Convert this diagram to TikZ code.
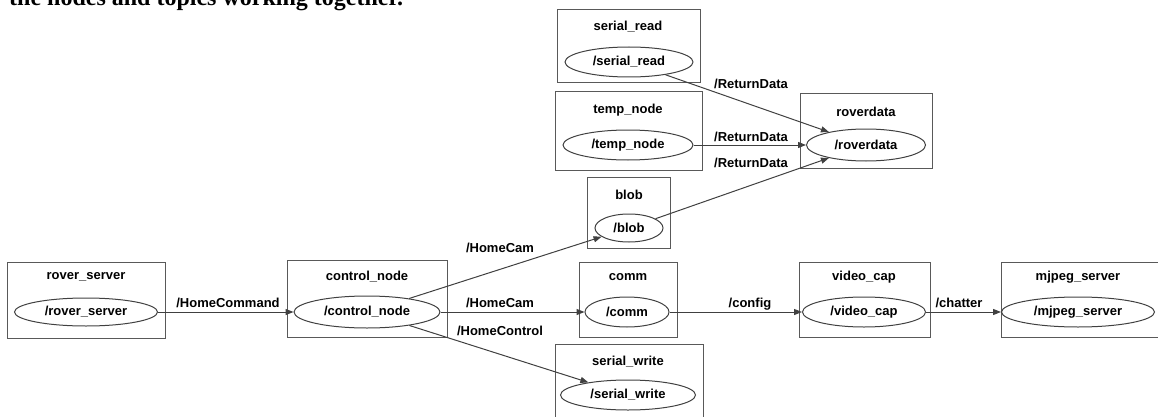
\documentclass[tikz,border=0pt]{standalone}
\usepackage{fontspec}
\usepackage{tikz}
\usetikzlibrary{shapes.geometric,arrows.meta}
\newfontfamily\graphfont{Liberation Sans}
\newfontfamily\pagefont{Liberation Serif}

\tikzset{
  cluster/.style={draw=black!65, line width=1pt, inner sep=0pt},
  topic/.style={ellipse, draw=black!75, line width=1pt, inner sep=0pt,
    font=\graphfont\bfseries\fontsize{13}{15}\selectfont},
  title/.style={inner sep=1pt, font=\graphfont\bfseries\fontsize{13}{15}\selectfont},
  lbl/.style={inner sep=1pt, font=\graphfont\bfseries\fontsize{13}{15}\selectfont},
  conn/.style={draw=black!75, line width=1pt, -{Triangle[length=8pt,width=6pt]}}
}

\begin{document}
\begin{tikzpicture}[x=1pt,y=-1pt]
\useasboundingbox (0,0) rectangle (1158,417);
\node[anchor=base west, inner sep=0pt, font=\pagefont\bfseries\fontsize{24}{28}\selectfont] (pagetext) at (9,6) {the nodes and topics working together.};

	\node[cluster, minimum width=158, minimum height=76] (roverserverbox) at (86,300) {};
	\node[title] (roverservertitle) at (86,277) {rover\_server};
	\node[topic, minimum width=143, minimum height=28] (roverserver) at (86,312) {/rover\_server};

	\node[cluster, minimum width=160, minimum height=77] (controlnodebox) at (367,298.5) {};
	\node[title] (controlnodetitle) at (367,277) {control\_node};
	\node[topic, minimum width=146, minimum height=32] (controlnode) at (367,312) {/control\_node};

	\node[cluster, minimum width=98, minimum height=75] (commbox) at (628,299.5) {};
	\node[title] (commtitle) at (628,277) {comm};
	\node[topic, minimum width=84, minimum height=30] (comm) at (627,312) {/comm};

	\node[cluster, minimum width=148, minimum height=81] (serialwritebox) at (629,384.5) {};
	\node[title] (serialwritetitle) at (628,362) {serial\_write};
	\node[topic, minimum width=135, minimum height=30] (serialwrite) at (628,395) {/serial\_write};

	\node[cluster, minimum width=131, minimum height=75] (videocapbox) at (864.5,299.5) {};
	\node[title] (videocaptitle) at (864,277) {video\_cap};
	\node[topic, minimum width=123, minimum height=30] (videocap) at (864,312) {/video\_cap};

	\node[cluster, minimum width=164, minimum height=75] (mjpegserverbox) at (1083,299.5) {};
	\node[title] (mjpegservertitle) at (1078,277) {mjpeg\_server};
	\node[topic, minimum width=153, minimum height=30] (mjpegserver) at (1078,312) {/mjpeg\_server};

	\node[cluster, minimum width=143, minimum height=73] (serialreadbox) at (628.5,46.5) {};
	\node[title] (serialreadtitle) at (628,27) {serial\_read};
	\node[topic, minimum width=128, minimum height=30] (serialread) at (629,62) {/serial\_read};

	\node[cluster, minimum width=147, minimum height=78] (tempnodebox) at (628.5,131) {};
	\node[title] (tempnodetitle) at (628,110) {temp\_node};
	\node[topic, minimum width=130, minimum height=30] (tempnode) at (628,145) {/temp\_node};

	\node[cluster, minimum width=132, minimum height=74] (roverdatabox) at (866,131) {};
	\node[title] (roverdatatitle) at (866,112) {roverdata};
	\node[topic, minimum width=119, minimum height=32] (roverdata) at (866,145) {/roverdata};

	\node[cluster, minimum width=83, minimum height=71] (blobbox) at (628.5,212.5) {};
	\node[title] (blobtitle) at (629,195) {blob};
	\node[topic, minimum width=68, minimum height=28] (blob) at (629,228) {/blob};

	\draw[conn] (roverserver) -- (controlnode);
	\draw[conn] (controlnode) -- (blob);
	\draw[conn] (controlnode) -- (comm);
	\draw[conn] (controlnode) -- (serialwrite);
	\draw[conn] (comm) -- (videocap);
	\draw[conn] (videocap) -- (mjpegserver);
	\draw[conn] (serialread) -- (roverdata);
	\draw[conn] (tempnode) -- (roverdata);
	\draw[conn] (blob) -- (roverdata);

	\node[lbl] (homecommand) at (228,303) {/HomeCommand};
	\node[lbl] (homecamblob) at (500,248) {/HomeCam};
	\node[lbl] (homecamcomm) at (500,303) {/HomeCam};
	\node[lbl] (homecontrol) at (500,331) {/HomeControl};
	\node[lbl] (config) at (750,304) {/config};
	\node[lbl] (chatter) at (959,303) {/chatter};
	\node[lbl] (returnread) at (751,84) {/ReturnData};
	\node[lbl] (returntemp) at (751,137) {/ReturnData};
	\node[lbl] (returnblob) at (751,163) {/ReturnData};
\end{tikzpicture}
\end{document}
